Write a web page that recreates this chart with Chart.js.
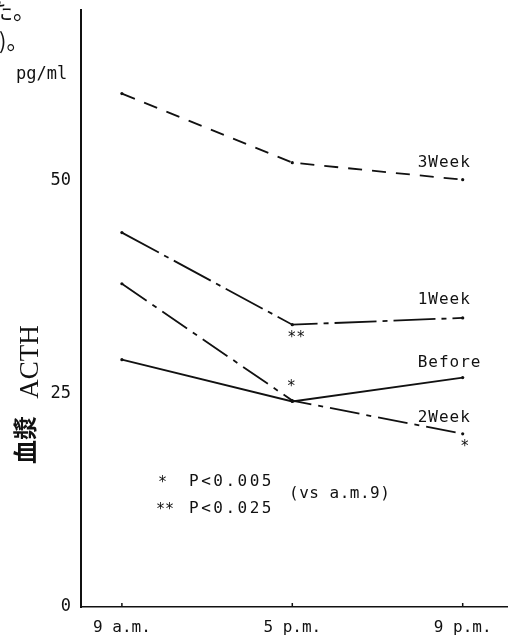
<!DOCTYPE html>
<html>
<head>
<meta charset="utf-8">
<script src="https://cdn.jsdelivr.net/npm/chart.js@4/dist/chart.umd.min.js"></script>
<style>
  html, body { margin: 0; padding: 0; background: #fff; }
  #wrap { width: 508px; height: 638px; }
</style>
</head>
<body>
<div id="wrap"><canvas id="c" width="508" height="638"></canvas></div>
<script>
// Sampling times and plasma ACTH (pg/ml) for each treatment stage
const times = ['9 a.m.', '5 p.m.', '9 p.m.'];
const before = [29.0, 24.1, 26.9];
const week1 = [43.9, 33.1, 33.9];
const week2 = [37.9, 24.2, 20.3];
const week3 = [60.2, 52.1, 50.1];
const yTicks = [0, 25, 50];

// Series names printed next to the 9 p.m. end of each line
const seriesLabels = ['Before', '1Week', '2Week', '3Week'];

// Significance marks: [text, time index, series values, side]
const sigMarks = [
  ['**', 1, week1, 'below'],
  ['*', 1, week2, 'above'],
  ['*', 2, week2, 'below']
];

const MONO = "'DejaVu Sans Mono', 'Liberation Mono', monospace";
const INK = '#111';

function pts(arr) { return arr.map((v, i) => ({ x: i, y: v })); }

function lineSet(label, arr, dash) {
  return {
    label, data: pts(arr),
    borderColor: INK, borderWidth: 1.8, borderDash: dash,
    pointRadius: 1.6, pointBackgroundColor: INK, pointBorderWidth: 0,
    tension: 0, fill: false
  };
}

const annotations = {
  id: 'annotations',
  afterDraw(chart) {
    const { ctx, scales: { x, y } } = chart;
    ctx.save();
    ctx.fillStyle = INK;
    ctx.strokeStyle = INK;

    // short inward ticks at each sampling time
    ctx.lineWidth = 1.5;
    times.forEach((t, i) => {
      const px = x.getPixelForValue(i);
      ctx.beginPath();
      ctx.moveTo(px, y.getPixelForValue(0));
      ctx.lineTo(px, y.getPixelForValue(0) - 4);
      ctx.stroke();
    });

    // series names near the right end
    ctx.font = '16px ' + MONO;
    ctx.letterSpacing = '1px';
    ctx.textBaseline = 'middle';
    ctx.textAlign = 'left';
    const ends = { 'Before': [before, 15], '1Week': [week1, 18], '2Week': [week2, 16], '3Week': [week3, 17] };
    seriesLabels.forEach(name => {
      const [arr, off] = ends[name];
      const px = x.getPixelForValue(2) - 45;
      const py = y.getPixelForValue(arr[2]) - off;
      ctx.fillText(name, px, py);
    });

    // significance asterisks
    ctx.letterSpacing = '0px';
    ctx.textAlign = 'center';
    ctx.font = '15px ' + MONO;
    sigMarks.forEach(([txt, i, arr, pos]) => {
      const px = x.getPixelForValue(i) + (txt === '**' ? 4 : (i === 1 ? -1 : 2));
      const py = y.getPixelForValue(arr[i]) + (pos === 'below' ? 13 : -13);
      ctx.fillText(txt, px, py);
    });

    // significance key
    ctx.textAlign = 'left';
    ctx.font = '15px ' + MONO;
    ctx.fillText('*', 158, 483);
    ctx.fillText('**', 156, 510);
    ctx.font = '16px ' + MONO;
    ctx.letterSpacing = '2.5px';
    ctx.fillText('P<0.005', 189, 482);
    ctx.fillText('P<0.025', 189, 509);
    ctx.letterSpacing = '0.5px';
    ctx.fillText('(vs a.m.9)', 289, 494);

    // unit
    ctx.letterSpacing = '0px';
    ctx.font = '17px ' + MONO;
    ctx.fillText('pg/ml', 16, 75);

    // vertical axis title
    ctx.save();
    ctx.translate(38, 362);
    ctx.rotate(-Math.PI / 2);
    ctx.textAlign = 'center';
    ctx.textBaseline = 'alphabetic';
    ctx.font = "27px 'Liberation Serif', serif";
    ctx.fillText('ACTH', 0, 0);
    ctx.restore();
    ctx.save();
    ctx.translate(25, 440);
    ctx.rotate(-Math.PI / 2);
    ctx.textAlign = 'center';
    ctx.textBaseline = 'middle';
    ctx.font = "bold 24px 'Noto Sans CJK JP', sans-serif";
    ctx.fillText('血漿', 0, 0);
    ctx.restore();

    // running text from the page margin
    ctx.font = "22px 'Noto Sans CJK JP', sans-serif";
    ctx.textAlign = 'left';
    ctx.textBaseline = 'middle';
    ctx.fillText('た。', -9, 11);
    ctx.fillText(')。', -1, 41);

    ctx.restore();
  }
};

new Chart(document.getElementById('c'), {
  type: 'line',
  data: {
    datasets: [
      lineSet('Before', before, []),
      lineSet('1Week', week1, [42, 6, 5, 6]),
      lineSet('2Week', week2, [30, 7, 5, 7]),
      lineSet('3Week', week3, [14, 10])
    ]
  },
  options: {
    responsive: false,
    animation: false,
    layout: { autoPadding: false, padding: { top: 10, right: 1, left: 0, bottom: 0 } },
    plugins: { legend: { display: false }, tooltip: { enabled: false } },
    scales: {
      x: {
        type: 'linear', min: -0.24, max: 2.26,
        afterBuildTicks: s => { s.ticks = times.map((t, i) => ({ value: i })); },
        afterFit: s => { s.height = 31; s.paddingLeft = 0; s.paddingRight = 0; },
        ticks: {
          callback: v => times[v], padding: 11, autoSkip: false, maxRotation: 0,
          color: INK, font: { family: MONO, size: 16 }
        },
        grid: { drawOnChartArea: false, drawTicks: false },
        border: { color: INK, width: 1.5 }
      },
      y: {
        min: 0, max: 70,
        afterBuildTicks: s => { s.ticks = yTicks.map(v => ({ value: v })); },
        afterFit: s => { s.width = 81; s.paddingTop = 0; s.paddingBottom = 0; },
        ticks: { padding: 10, color: INK, font: { family: MONO, size: 17 } },
        grid: { drawOnChartArea: false, drawTicks: false },
        border: { color: INK, width: 2 }
      }
    }
  },
  plugins: [annotations]
});
</script>
</body>
</html>
